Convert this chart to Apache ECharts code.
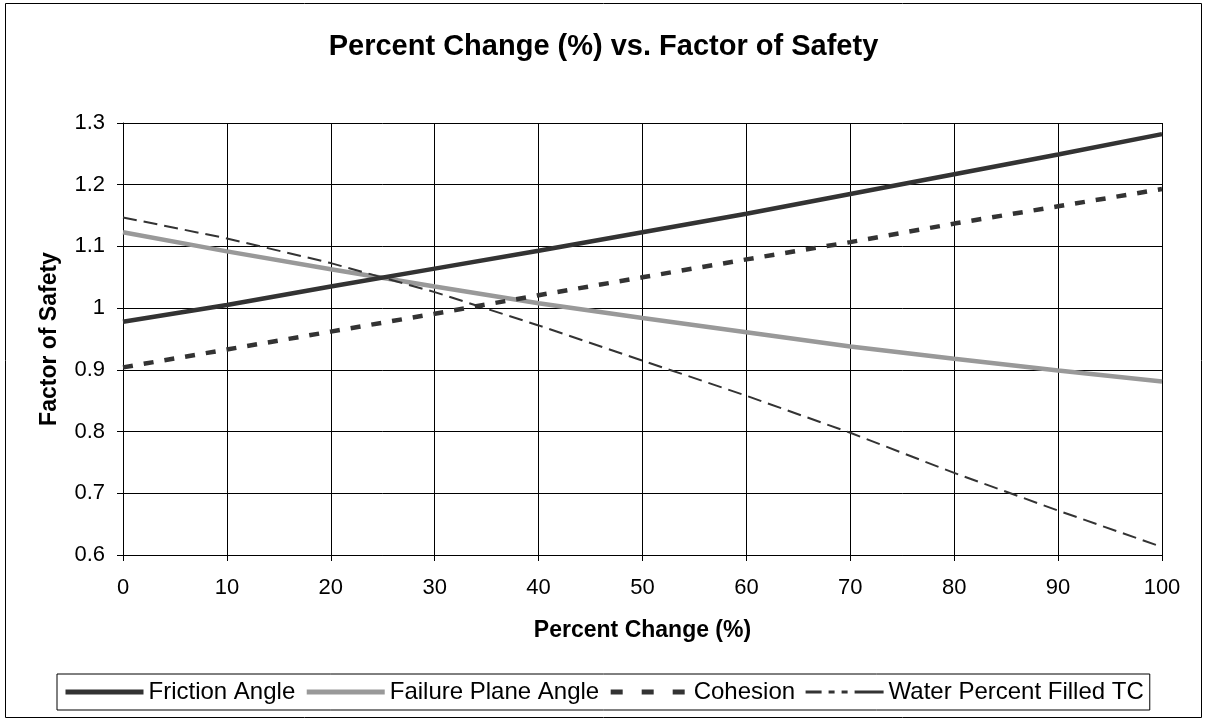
<!DOCTYPE html>
<html>
<head>
<meta charset="utf-8">
<script src="https://cdn.jsdelivr.net/npm/echarts@6/dist/echarts.min.js"></script>
<style>
html,body{margin:0;padding:0;background:#fff;}
#chart{width:1207px;height:719px;}
</style>
</head>
<body>
<div id="chart"></div>
<script>
// ---- data ----
const percentChange = [0, 10, 20, 30, 40, 50, 60, 70, 80, 90, 100];
const frictionAngle = [0.978, 1.005, 1.035, 1.064, 1.093, 1.123, 1.153, 1.185, 1.217, 1.249, 1.282];
const failurePlaneAngle = [1.123, 1.092, 1.063, 1.035, 1.008, 0.984, 0.961, 0.938, 0.918, 0.899, 0.881];
const cohesion = [0.904, 0.933, 0.962, 0.991, 1.021, 1.050, 1.079, 1.107, 1.137, 1.165, 1.193];
const waterPercentFilled = [1.147, 1.113, 1.073, 1.026, 0.972, 0.915, 0.858, 0.798, 0.733, 0.672, 0.613];
const seriesNames = ['Friction Angle', 'Failure Plane Angle', 'Cohesion', 'Water Percent Filled TC'];
const xTicks = [0, 10, 20, 30, 40, 50, 60, 70, 80, 90, 100];
const yTicks = [0.6, 0.7, 0.8, 0.9, 1.0, 1.1, 1.2, 1.3];

const FONT = '"Liberation Sans", Arial, sans-serif';
const pairs = arr => percentChange.map((x, i) => [x, arr[i]]);

const chart = echarts.init(document.getElementById('chart'), null, {renderer: 'canvas'});
chart.setOption({
  backgroundColor: '#fff',
  animation: false,
  title: {
    text: 'Percent Change (%) vs. Factor of Safety',
    left: 'center',
    top: 27,
    textStyle: {fontFamily: FONT, fontSize: 29, fontWeight: 'bold', color: '#000'}
  },
  graphic: [{
    type: 'rect',
    shape: {x: 5.5, y: 3.5, width: 1196, height: 714},
    style: {fill: 'none', stroke: '#000', lineWidth: 1},
    silent: true
  }],
  grid: {left: 123, right: 45, top: 123, bottom: 164, containLabel: false},
  legend: {
    show: true,
    left: 57,
    top: 674,
    orient: 'horizontal',
    padding: [6, 6, 6, 6],
    itemGap: 9,
    itemWidth: 78,
    itemHeight: 14,
    borderColor: '#000',
    borderWidth: 1,
    itemStyle: {color: 'rgba(0,0,0,0)', borderWidth: 0, opacity: 0},
    textStyle: {fontFamily: FONT, fontSize: 24, color: '#000'},
    data: [
      {name: seriesNames[0], lineStyle: {width: 5, color: '#333', type: 'solid'}},
      {name: seriesNames[1], lineStyle: {width: 5, color: '#999', type: 'solid'}},
      {name: seriesNames[2], lineStyle: {width: 5, color: '#333', type: [12, 19]}},
      {name: seriesNames[3], lineStyle: {width: 3, color: '#333', type: [16, 7, 6, 7, 6, 7, 16, 0]}}
    ]
  },
  xAxis: {
    type: 'value',
    min: xTicks[0],
    max: xTicks[xTicks.length - 1],
    interval: xTicks[1] - xTicks[0],
    name: 'Percent Change (%)',
    nameLocation: 'middle',
    nameGap: 64,
    nameTextStyle: {fontFamily: FONT, fontSize: 23, fontWeight: 'bold', color: '#000'},
    axisLine: {show: true, lineStyle: {color: '#000', width: 1}},
    axisTick: {show: true, inside: false, length: 6, lineStyle: {color: '#000'}},
    axisLabel: {fontFamily: FONT, fontSize: 22, color: '#000', margin: 22},
    splitLine: {show: true, lineStyle: {color: '#000', width: 1}}
  },
  yAxis: {
    type: 'value',
    min: yTicks[0],
    max: yTicks[yTicks.length - 1],
    interval: 0.1,
    name: 'Factor of Safety',
    nameLocation: 'middle',
    nameGap: 62,
    nameTextStyle: {fontFamily: FONT, fontSize: 23, fontWeight: 'bold', color: '#000'},
    axisLine: {show: true, lineStyle: {color: '#000', width: 1}},
    axisTick: {show: true, inside: false, length: 6, lineStyle: {color: '#000'}},
    axisLabel: {fontFamily: FONT, fontSize: 22, color: '#000', margin: 18,
      formatter: v => String(+(+v).toFixed(1))},
    splitLine: {show: true, lineStyle: {color: '#000', width: 1}}
  },
  series: [
    {name: seriesNames[0], type: 'line', data: pairs(frictionAngle), showSymbol: false, symbol: 'none',
     lineStyle: {color: '#333', width: 4.5, type: 'solid'}, itemStyle: {color: '#333'}, z: 4},
    {name: seriesNames[1], type: 'line', data: pairs(failurePlaneAngle), showSymbol: false, symbol: 'none',
     lineStyle: {color: '#999', width: 4.5, type: 'solid'}, itemStyle: {color: '#999'}, z: 3},
    {name: seriesNames[2], type: 'line', data: pairs(cohesion), showSymbol: false, symbol: 'none',
     lineStyle: {color: '#333', width: 4.5, type: [10, 11]}, itemStyle: {color: '#333'}, z: 5},
    {name: seriesNames[3], type: 'line', data: pairs(waterPercentFilled), showSymbol: false, symbol: 'none',
     lineStyle: {color: '#333', width: 2, type: [14, 7]}, itemStyle: {color: '#333'}, z: 6}
  ]
});
</script>
</body>
</html>
